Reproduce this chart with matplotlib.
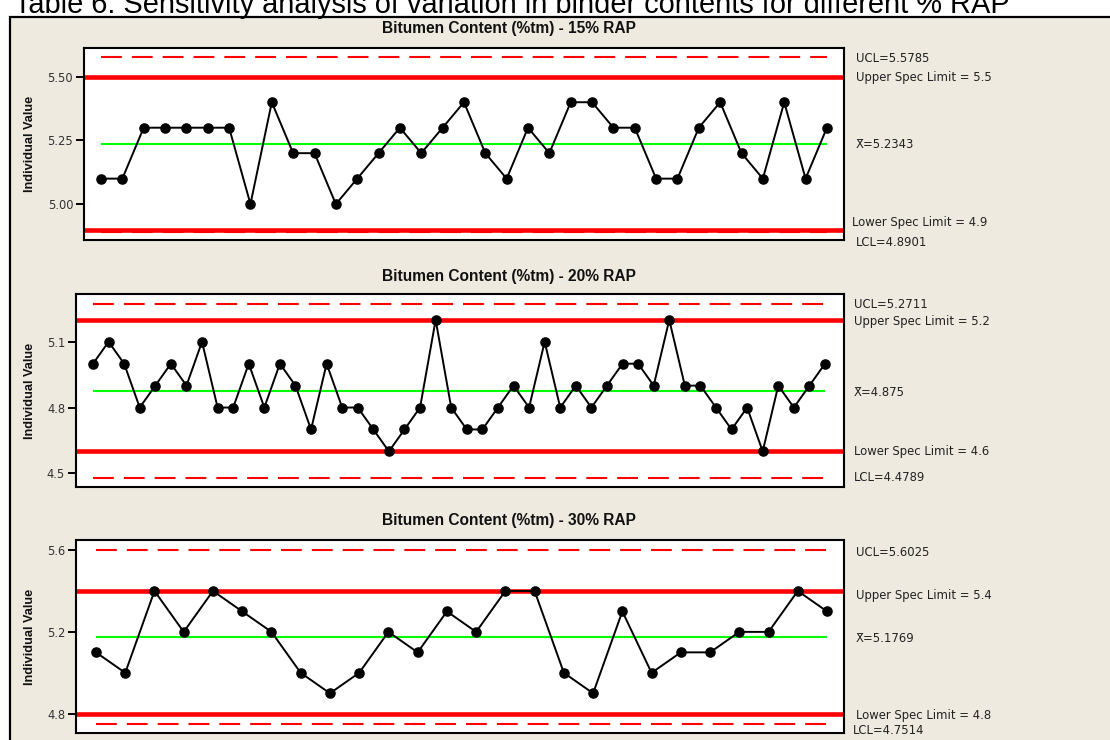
import matplotlib
matplotlib.use("Agg")
import matplotlib.pyplot as plt
from matplotlib.patches import Rectangle

# ---------------------------------------------------------------- data
caption = "Table 6: Sensitivity analysis of variation in binder contents for different % RAP"

titles = [
    "Bitumen Content (%tm) - 15% RAP",
    "Bitumen Content (%tm) - 20% RAP",
    "Bitumen Content (%tm) - 30% RAP",
]

rap15 = [5.1, 5.1, 5.3, 5.3, 5.3, 5.3, 5.3, 5.0, 5.4, 5.2, 5.2, 5.0, 5.1, 5.2,
         5.3, 5.2, 5.3, 5.4, 5.2, 5.1, 5.3, 5.2, 5.4, 5.4, 5.3, 5.3, 5.1, 5.1,
         5.3, 5.4, 5.2, 5.1, 5.4, 5.1, 5.3]

rap20 = [5.0, 5.1, 5.0, 4.8, 4.9, 5.0, 4.9, 5.1, 4.8, 4.8, 5.0, 4.8, 5.0, 4.9,
         4.7, 5.0, 4.8, 4.8, 4.7, 4.6, 4.7, 4.8, 5.2, 4.8, 4.7, 4.7, 4.8, 4.9,
         4.8, 5.1, 4.8, 4.9, 4.8, 4.9, 5.0, 5.0, 4.9, 5.2, 4.9, 4.9, 4.8, 4.7,
         4.8, 4.6, 4.9, 4.8, 4.9, 5.0]

rap30 = [5.1, 5.0, 5.4, 5.2, 5.4, 5.3, 5.2, 5.0, 4.9, 5.0, 5.2, 5.1, 5.3,
         5.2, 5.4, 5.4, 5.0, 4.9, 5.3, 5.0, 5.1, 5.1, 5.2, 5.2, 5.4, 5.3]

ucl = [5.5785, 5.2711, 5.6025]
lcl = [4.8901, 4.4789, 4.7514]
xbar = [5.2343, 4.875, 5.1769]
usl = [5.5, 5.2, 5.4]
lsl = [4.9, 4.6, 4.8]

yticks = [[5.00, 5.25, 5.50], [4.5, 4.8, 5.1], [4.8, 5.2, 5.6]]
ytick_labels = [["5.00", "5.25", "5.50"], ["4.5", "4.8", "5.1"], ["4.8", "5.2", "5.6"]]

series = [rap15, rap20, rap30]

# ---------------------------------------------------------------- layout (pixels)
W, H = 1110, 740
FRAME_TOP = 17
layout = [
    dict(box=(84, 48, 844, 240), ylim=(4.859, 5.613), xlim=(0.204, 35.80),
         title_y=29, lab_x=[856, 856, 856, 852, 856], lab_y=[58, 78, 145, 223, 242]),
    dict(box=(76, 294, 844, 487), ylim=(4.4375, 5.318), xlim=(-0.092, 49.22),
         title_y=276, lab_x=[854, 854, 854, 854, 854], lab_y=[305, 321, 392, 452, 478]),
    dict(box=(76, 540, 844, 733), ylim=(4.706, 5.649), xlim=(0.316, 26.58),
         title_y=520, lab_x=[856, 856, 856, 856, 853], lab_y=[552, 595, 638, 716, 730]),
]

BG = "#EEEAE0"
RED = "#FF0000"
GREEN = "#00FF00"
TXT = "#222222"


def fx(x):
    return x / W


def fy(y):
    return 1 - y / H


fig = plt.figure(figsize=(W / 100, H / 100), dpi=100, facecolor="white")

# page caption above the graph frame
fig.text(fx(14), fy(FRAME_TOP - 4), caption, family="Liberation Sans",
         fontsize=20.9, color="black", ha="left", va="baseline", zorder=-5)

# beige graph frame
frame = Rectangle((fx(10), fy(1000)), fx(2000), (1000 - FRAME_TOP) / H,
                  transform=fig.transFigure, facecolor=BG, edgecolor="black",
                  linewidth=1.6, zorder=-10)
fig.patches.append(frame)

for i, (vals, lay) in enumerate(zip(series, layout)):
    l, t, r, b = lay["box"]
    ax = fig.add_axes([fx(l), fy(b), fx(r) - fx(l), fy(t) - fy(b)])
    ax.set_facecolor("white")
    n = len(vals)
    xs = list(range(1, n + 1))

    ax.axhline(usl[i], color=RED, lw=3.3, zorder=2)
    ax.axhline(lsl[i], color=RED, lw=3.3, zorder=2)
    ax.hlines([ucl[i], lcl[i]], 1, n, colors=RED, lw=1.5,
              linestyles=[(0, (10, 4.8))], zorder=1)
    ax.hlines(xbar[i], 1, n, colors=GREEN, lw=1.5, zorder=3)
    ax.plot(xs, vals, color="black", lw=1.4, marker="o", markersize=6.6,
            markerfacecolor="black", markeredgecolor="black", zorder=4)

    ax.set_xlim(*lay["xlim"])
    ax.set_ylim(*lay["ylim"])
    ax.set_xticks([])
    ax.set_yticks(yticks[i])
    ax.set_yticklabels(ytick_labels[i], family="DejaVu Sans", fontsize=8.3,
                       color="#333333")
    ax.tick_params(axis="y", length=5.6, width=1.4, pad=2.2, color="black")
    for sp in ax.spines.values():
        sp.set_linewidth(1.5)
        sp.set_color("black")

    # panel title
    fig.text(fx(509), fy(lay["title_y"]), titles[i], family="Liberation Sans",
             weight="bold", fontsize=11.2, color="#111111", ha="center",
             va="center")
    # y axis label
    fig.text(fx(30), fy((t + b) / 2), "Individual Value", family="Liberation Sans",
             weight="bold", fontsize=9.2, color="#111111", rotation=90,
             ha="center", va="center")

    labels = [
        f"UCL={ucl[i]:g}",
        f"Upper Spec Limit = {usl[i]:g}",
        f"X\u0304={xbar[i]:g}",
        f"Lower Spec Limit = {lsl[i]:g}",
        f"LCL={lcl[i]:g}",
    ]
    for txt, lx, ly in zip(labels, lay["lab_x"], lay["lab_y"]):
        fig.text(fx(lx), fy(ly), txt, family="DejaVu Sans", fontsize=8.4,
                 color=TXT, ha="left", va="center")

fig.savefig("out.png", dpi=100, facecolor="white")
